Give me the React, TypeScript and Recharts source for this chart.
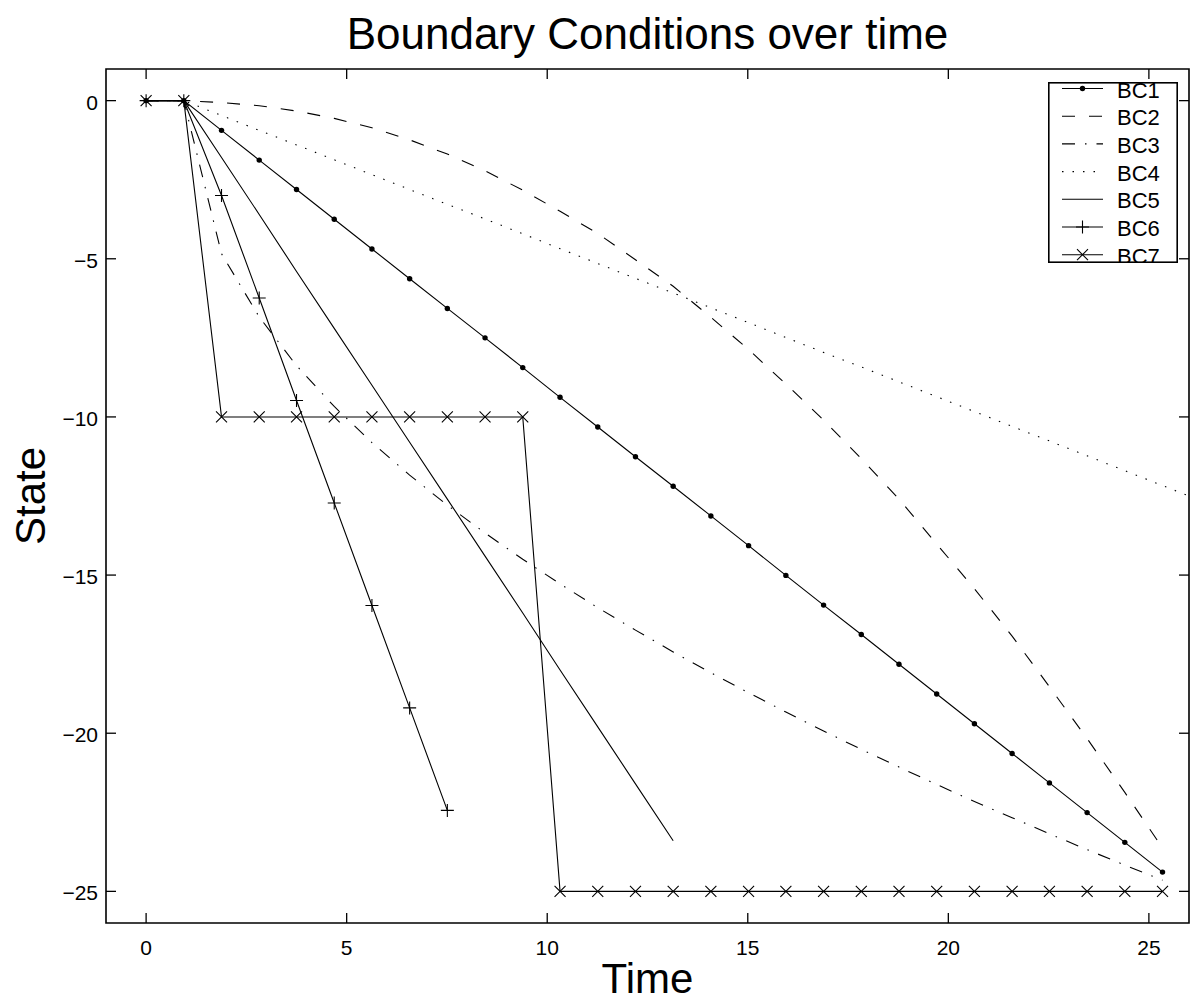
import { LineChart, Line, XAxis, YAxis, ReferenceArea } from 'recharts';

// time steps (x)
const times = [
  0, 0.94, 1.88, 2.82, 3.75, 4.69, 5.63, 6.57, 7.51, 8.45, 9.39, 10.32, 11.26, 12.2, 13.14,
  14.08, 15.02, 15.95, 16.89, 17.83, 18.77, 19.71, 20.65, 21.59, 22.52, 23.46, 24.4, 25.34, 26.28,
];

const bc1 = [
  0, 0, -0.94, -1.88, -2.81, -3.75, -4.69, -5.63, -6.57, -7.5, -8.44, -9.38, -10.32, -11.26,
  -12.19, -13.13, -14.07, -15.01, -15.95, -16.88, -17.82, -18.76, -19.7, -20.64, -21.57, -22.51,
  -23.45, -24.39,
];
const bc2 = [
  0, 0, -0.06, -0.16, -0.33, -0.56, -0.86, -1.24, -1.69, -2.22, -2.83, -3.5, -4.2, -5.03, -5.87,
  -6.85, -7.87, -8.96, -10.1, -11.32, -12.6, -14.02, -15.43, -16.93, -18.53, -20.17, -21.87, -23.63,
];
const bc3 = [
  0, 0, -4.84, -6.84, -8.38, -9.67, -10.81, -11.84, -12.79, -13.67, -14.5, -15.28, -16.03, -16.74,
  -17.43, -18.09, -18.72, -19.33, -19.93, -20.51, -21.07, -21.62, -22.16, -22.67, -23.18, -23.68,
  -24.17, -24.65,
];
const bc4 = [
  0, 0, -0.47, -0.94, -1.4, -1.87, -2.34, -2.81, -3.28, -3.74, -4.21, -4.68, -5.15, -5.62, -6.08,
  -6.55, -7.02, -7.49, -7.96, -8.42, -8.89, -9.36, -9.83, -10.3, -10.76, -11.23, -11.7, -12.17, -12.64,
];
const bc5 = [0, 0, -1.8, -3.6, -5.4, -7.2, -9.0, -10.8, -12.6, -14.4, -16.2, -18.0, -19.8, -21.6, -23.4];
const bc6 = [0, 0, -3.0, -6.24, -9.48, -12.72, -15.96, -19.2, -22.44];
const bc7 = [
  0, 0, -10, -10, -10, -10, -10, -10, -10, -10, -10, -25, -25, -25, -25, -25, -25, -25, -25, -25,
  -25, -25, -25, -25, -25, -25, -25, -25,
];

const xTicks = [0, 5, 10, 15, 20, 25];
const yTicks = [0, -5, -10, -15, -20, -25];

const FONT = '"Liberation Sans", Arial, Helvetica, sans-serif';
const PLOT = { left: 106, right: 1189, top: 69, bottom: 923 };
const TICK = 10;

const toPoints = (vals: number[]) => vals.map((y, i) => ({ t: times[i], y }));
const fmt = (v: number) => (v < 0 ? `\u2212${-v}` : `${v}`);

const plusPath = (x: number, y: number, s = 6.5) => `M${x - s},${y}H${x + s}M${x},${y - s}V${y + s}`;
const crossPath = (x: number, y: number, s = 5.5) =>
  `M${x - s},${y - s}L${x + s},${y + s}M${x - s},${y + s}L${x + s},${y - s}`;

const PlusDot = (p: any) => (
  <path key={`plus-${p.index}`} d={plusPath(p.cx, p.cy)} stroke="#000" strokeWidth={1.1} fill="none" />
);
const CrossDot = (p: any) => (
  <path key={`cross-${p.index}`} d={crossPath(p.cx, p.cy)} stroke="#000" strokeWidth={1.1} fill="none" />
);

const series = [
  { name: 'BC1', values: bc1, dash: undefined, marker: 'dot' },
  { name: 'BC2', values: bc2, dash: '13 14', marker: null },
  { name: 'BC3', values: bc3, dash: '13 10 1.5 10', marker: null },
  { name: 'BC4', values: bc4, dash: '1.5 9', marker: null },
  { name: 'BC5', values: bc5, dash: undefined, marker: null },
  { name: 'BC6', values: bc6, dash: undefined, marker: 'plus' },
  { name: 'BC7', values: bc7, dash: undefined, marker: 'cross' },
];

const XTick = ({ x, payload }: any) => (
  <g>
    <line x1={x} y1={PLOT.bottom} x2={x} y2={PLOT.bottom - TICK} stroke="#000" strokeWidth={1.3} />
    <line x1={x} y1={PLOT.top} x2={x} y2={PLOT.top + TICK} stroke="#000" strokeWidth={1.3} />
    <text x={x} y={955} textAnchor="middle" fontSize={21} fontFamily={FONT} fill="#000">
      {fmt(payload.value)}
    </text>
  </g>
);

const YTick = ({ y, payload }: any) => (
  <g>
    <line x1={PLOT.left} y1={y} x2={PLOT.left + TICK} y2={y} stroke="#000" strokeWidth={1.3} />
    <line x1={PLOT.right} y1={y} x2={PLOT.right - TICK} y2={y} stroke="#000" strokeWidth={1.3} />
    <text x={PLOT.left - 8} y={y + 9} textAnchor="end" fontSize={21} fontFamily={FONT} fill="#000">
      {fmt(payload.value)}
    </text>
  </g>
);

// the last legend entry is cut by the box edge in the original, so the box clips its content
const LegendBox = () => (
  <svg
    width={130}
    height={181}
    style={{ position: 'absolute', left: 1048, top: 82, background: '#fff', overflow: 'hidden' }}
  >
    {series.map((s, i) => {
      const y = 6.5 + i * 27.7;
      return (
        <g key={s.name}>
          <line x1={14} y1={y} x2={55} y2={y} stroke="#000" strokeWidth={1.1} strokeDasharray={s.dash} />
          {s.marker === 'dot' && <circle cx={34.5} cy={y} r={2.7} fill="#000" />}
          {s.marker === 'plus' && <path d={plusPath(34.5, y)} stroke="#000" strokeWidth={1.1} />}
          {s.marker === 'cross' && <path d={crossPath(34.5, y)} stroke="#000" strokeWidth={1.1} />}
          <text x={69} y={y + 9} fontSize={22} fontFamily={FONT} fill="#000">
            {s.name}
          </text>
        </g>
      );
    })}
    <rect x={0.8} y={0.8} width={128.4} height={179.4} fill="none" stroke="#000" strokeWidth={1.6} />
  </svg>
);

const App = () => {
  return (
    <div style={{ position: 'absolute', left: 0, top: 0, width: 1190, height: 1003, background: '#fff', fontFamily: FONT }}>
      <div
        style={{
          position: 'absolute',
          left: PLOT.left,
          width: PLOT.right - PLOT.left,
          top: 12,
          textAlign: 'center',
          fontSize: 44,
          lineHeight: '44px',
          color: '#000',
        }}
      >
        Boundary Conditions over time
      </div>
      <LineChart width={1190} height={1003} margin={{ top: 69, right: 1, bottom: 50, left: 46 }}>
        <XAxis
          dataKey="t"
          type="number"
          domain={[-1, 26]}
          ticks={xTicks}
          allowDataOverflow
          height={30}
          axisLine={false}
          tickLine={false}
          tick={<XTick />}
          label={{
            content: () => (
              <text x={647.5} y={993} textAnchor="middle" fontSize={42} fontFamily={FONT} fill="#000">
                Time
              </text>
            ),
          }}
        />
        <YAxis
          dataKey="y"
          type="number"
          domain={[-26, 1]}
          ticks={yTicks}
          allowDataOverflow
          width={60}
          axisLine={false}
          tickLine={false}
          tick={<YTick />}
          label={{
            content: () => (
              <text
                x={45}
                y={496}
                transform="rotate(-90 45 496)"
                textAnchor="middle"
                fontSize={42}
                fontFamily={FONT}
                fill="#000"
              >
                State
              </text>
            ),
          }}
        />
        <ReferenceArea x1={-1} x2={26} y1={-26} y2={1} fill="none" stroke="#000" strokeWidth={1.6} />
        {series.map((s) => (
          <Line
            key={s.name}
            data={toPoints(s.values)}
            dataKey="y"
            name={s.name}
            type="linear"
            stroke="#000"
            strokeWidth={1.1}
            strokeDasharray={s.dash}
            dot={
              s.marker === 'dot'
                ? { r: 2.7, fill: '#000', stroke: '#000', strokeWidth: 0 }
                : s.marker === 'plus'
                ? PlusDot
                : s.marker === 'cross'
                ? CrossDot
                : false
            }
            activeDot={false}
            isAnimationActive={false}
          />
        ))}
      </LineChart>
      <LegendBox />
    </div>
  );
};

export default App;
